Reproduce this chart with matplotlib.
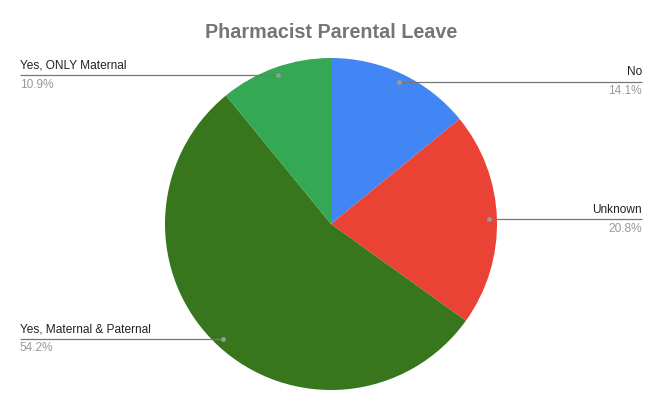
import numpy as np
import matplotlib.pyplot as plt

plt.rcParams['font.family'] = ['Liberation Sans', 'DejaVu Sans']

# data
labels = ["No", "Unknown", "Yes, Maternal & Paternal", "Yes, ONLY Maternal"]
shares = [14.1, 20.8, 54.2, 10.9]
colors = ["#4285F4", "#EA4335", "#38761D", "#34A853"]

W, H = 662, 409
fig = plt.figure(figsize=(W / 100, H / 100), dpi=100)
ax = fig.add_axes([0, 0, 1, 1])

cx, cy, r = 331, H - 224, 166
wedges, _ = ax.pie(shares, colors=colors, startangle=90, counterclock=False,
                   center=(cx, cy), radius=r, frame=True,
                   wedgeprops=dict(linewidth=0))
ax.set_xlim(0, W)
ax.set_ylim(0, H)
ax.set_aspect('equal')
ax.axis('off')

# titolo
ax.text(cx, H - 32, "Pharmacist Parental Leave", ha="center", va="center",
        fontsize=14.2, fontweight="bold", color="#757575")

# etichette con linee
for w, lab, v in zip(wedges, labels, shares):
    mid = np.deg2rad((w.theta1 + w.theta2) / 2)
    dx, dy = r * 0.95 * np.cos(mid), r * 0.95 * np.sin(mid)
    px, py = cx + dx, cy + dy
    if dx >= 0:
        xe, ha = 642, "right"
    else:
        xe, ha = 20, "left"
    ax.plot([px, xe], [py, py], color="#777777", lw=0.9, solid_capstyle="butt")
    ax.plot(px, py, "o", ms=3.5, color="#999999", mec="none")
    ax.text(xe, py + 3.5, lab, ha=ha, va="bottom", fontsize=8.6, color="#222222")
    ax.text(xe, py - 3.5, f"{v}%", ha=ha, va="top", fontsize=8.6, color="#999999")

fig.savefig("out.png", dpi=100, facecolor="white")
